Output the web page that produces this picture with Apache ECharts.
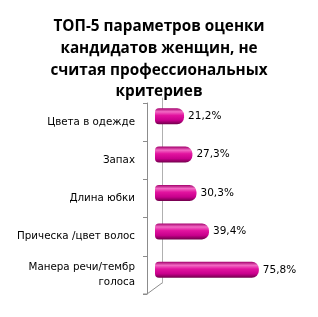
<!DOCTYPE html>
<html><head><meta charset="utf-8">
<script src="https://cdn.jsdelivr.net/npm/echarts@6/dist/echarts.min.js"></script>
<style>html,body{margin:0;padding:0;background:#fff}#c{width:318px;height:317px}</style>
</head><body><div id="c"></div>
<script>
const titleText = 'ТОП-5 параметров оценки\nкандидатов женщин, не\nсчитая профессиональных\nкритериев';
const categories = ['Цвета в одежде', 'Запах', 'Длина юбки', 'Прическа /цвет волос', 'Манера речи/тембр\nголоса'];
const values = [21.2, 27.3, 30.3, 39.4, 75.8];

const chart = echarts.init(document.getElementById('c'), null, {renderer: 'canvas'});
const font = 'Open Sans';
const labelFont = 'DejaVu Sans';
const barGrad = new echarts.graphic.LinearGradient(0, 0, 0, 1, [
  {offset: 0, color: '#a3006c'},
  {offset: 0.22, color: '#f26ac4'},
  {offset: 0.45, color: '#e2139f'},
  {offset: 0.75, color: '#c8008c'},
  {offset: 1, color: '#70004a'}
]);
chart.setOption({
  animation: false,
  title: {
    text: titleText, left: 'center', top: 11,
    textStyle: {fontFamily: font, fontSize: 15.3, fontWeight: 'bold', color: '#000', lineHeight: 21.7}
  },
  grid: [
    {left: 147, top: 103, height: 191, width: 140},
    {left: 155, top: 97, height: 192, width: 137},
    {left: 162, top: 98, height: 185, width: 120}
  ],
  xAxis: [
    {gridIndex: 0, type: 'value', min: 0, max: 100, show: false},
    {gridIndex: 1, type: 'value', min: 0, max: 100, show: false},
    {gridIndex: 2, type: 'value', min: 0, max: 100, show: false}
  ],
  yAxis: [
    {gridIndex: 0, type: 'category', data: categories, inverse: true,
     axisLine: {show: true, lineStyle: {color: '#8c8c8c', width: 1}},
     axisTick: {show: true, length: 4, lineStyle: {color: '#8c8c8c'}},
     axisLabel: {fontFamily: labelFont, fontSize: 10.3, color: '#000', margin: 12, lineHeight: 15, align: 'right'}},
    {gridIndex: 1, type: 'category', data: categories, inverse: true, show: false},
    {gridIndex: 2, type: 'category', data: categories, inverse: true,
     axisLine: {show: true, lineStyle: {color: '#b0b0b0', width: 1}},
     axisTick: {show: false}, axisLabel: {show: false}, z: 0}
  ],
  graphic: [
    {type: 'line', shape: {x1: 147, y1: 294, x2: 162, y2: 283}, style: {stroke: '#8c8c8c', lineWidth: 1}},
    {type: 'line', shape: {x1: 143, y1: 294, x2: 147, y2: 294}, style: {stroke: '#8c8c8c', lineWidth: 1}}
  ],
  series: [{
    type: 'bar', xAxisIndex: 1, yAxisIndex: 1, data: values, barWidth: 16, z: 5,
    itemStyle: {color: barGrad, borderRadius: [4, 7, 7, 4]},
    label: {show: true, position: 'right', distance: 4, fontFamily: labelFont, fontSize: 10.5, color: '#000',
      formatter: p => p.value.toFixed(1).replace('.', ',') + '%'}
  }]
});
</script></body></html>
